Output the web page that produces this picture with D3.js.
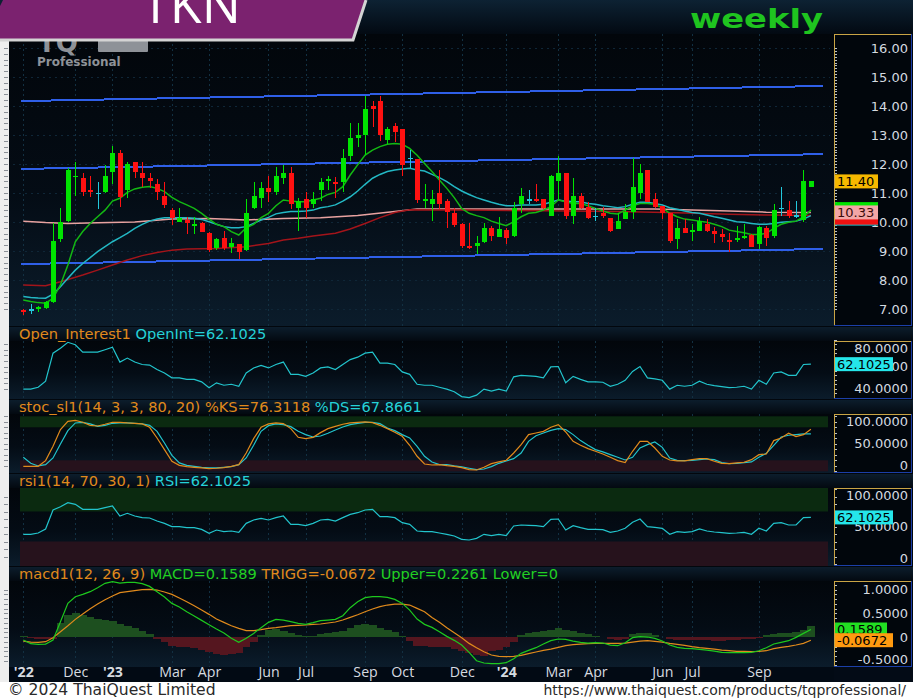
<!DOCTYPE html>
<html>
<head>
<meta charset="utf-8">
<title>TKN weekly</title>
<script src="https://cdn.jsdelivr.net/npm/d3@7/dist/d3.min.js"></script>
<style>
  html, body { margin: 0; padding: 0; background: #ffffff; }
  svg { display: block; }
</style>
</head>
<body>
<svg id="chart"></svg>
<script>
// ---- weekly OHLC, one entry per bar (oldest first) ----
const openP = [6.95,7.00,6.99,7.02,7.23,9.41,10.03,11.55,11.51,11.09, 11.01,11.02,11.71,12.37,11.10,12.08,11.68,11.51,11.30,10.90,
  10.41,10.01,10.07,9.87,9.98,9.63,9.09,9.46,9.13,9.25, 9.03,10.49,10.82,11.18,11.02,11.53,11.68,10.49,10.78,10.62,
  11.10,11.41,11.39,11.39,12.29,12.91,13.00,14.00,14.17,12.83, 13.31,13.20,12.22,12.17,10.74,10.61,11.01,10.72,10.32,9.92,
  9.16,9.18,9.30,9.80,9.47,9.72,9.52,10.61,10.78,10.78, 10.78,10.22,11.41,11.68,10.22,10.90,10.51,10.21,10.32,10.13,
  9.76,10.10,10.33,10.99,11.79,10.78,10.55,10.30,9.41,9.80, 9.69,9.70,9.92,9.69,9.57,9.38,9.38,9.46,9.55,9.23,
  9.80,9.53,10.49,10.41,10.24,10.07,11.22];
const highP = [7.00,7.17,7.11,7.28,9.95,10.50,11.85,12.08,11.68,11.60, 11.39,11.97,12.62,12.48,12.08,12.08,12.06,11.68,11.48,11.39,
  10.47,10.49,10.18,10.18,10.01,9.67,9.46,9.69,9.44,9.25, 10.79,11.39,11.39,11.60,11.91,11.97,11.91,10.82,11.02,11.02,
  11.51,11.60,11.56,12.51,13.40,13.40,14.36,14.17,14.36,13.29, 13.40,13.20,12.48,12.17,11.30,11.10,11.79,10.78,10.47,9.98,
  9.95,9.52,9.95,9.87,10.18,9.78,10.70,11.18,11.10,11.30, 10.78,11.62,12.29,11.68,11.51,11.01,10.70,10.49,10.53,10.15,
  10.32,10.61,12.22,11.99,11.79,10.99,10.56,10.32,10.10,10.10, 9.92,10.18,10.10,9.84,9.76,9.61,9.87,9.92,9.57,9.87,
  9.87,10.61,11.20,10.72,10.72,11.79,11.40];
const lowP = [6.78,6.82,6.88,7.00,7.20,9.32,10.00,10.91,10.90,10.87, 10.45,10.99,11.30,10.53,10.82,11.53,11.22,11.16,10.76,10.49,
  9.90,9.99,9.57,9.57,9.64,8.98,9.03,9.03,8.92,8.72, 9.01,10.45,10.47,10.70,10.93,11.30,10.45,9.70,10.13,10.47,
  10.72,11.10,10.82,11.05,12.10,12.60,12.31,13.29,12.79,12.68, 12.77,11.60,11.85,10.64,10.47,10.03,10.45,9.78,9.84,9.11,
  9.07,8.90,9.28,9.36,9.47,9.23,9.49,10.30,10.61,10.70, 10.44,10.20,10.76,10.10,9.92,10.45,10.10,10.03,10.13,9.67,
  9.75,10.09,10.10,10.79,10.68,10.49,10.10,9.29,9.07,9.61, 9.36,9.69,9.67,9.29,9.30,8.95,9.30,9.41,9.13,9.07,
  9.18,9.44,10.22,10.13,10.15,10.01,11.22];
const closeP = [6.90,7.00,7.07,7.25,9.34,9.99,11.79,11.60,11.02,11.02, 11.01,11.60,12.37,10.87,11.99,11.71,11.53,11.43,11.05,10.59,
  10.15,10.15,9.95,9.92,9.67,9.03,9.41,9.11,9.26,8.98, 10.30,10.90,11.18,11.02,11.60,11.68,10.61,10.72,10.49,10.78,
  11.39,11.48,11.31,12.20,12.89,13.00,13.90,13.90,13.00,13.20, 13.09,11.97,12.22,10.76,10.78,10.78,10.62,10.33,9.90,9.17,
  9.10,9.29,9.80,9.53,9.75,9.46,10.47,10.90,10.78,10.72, 10.47,11.59,11.68,10.21,10.90,10.49,10.13,10.21,10.21,9.70,
  10.03,10.33,11.20,11.68,10.70,10.53,10.32,9.34,9.80,9.63, 9.72,10.03,9.69,9.59,9.47,9.32,9.44,9.53,9.15,9.84,
  9.44,10.41,10.49,10.22,10.24,11.41,11.40];

// ---- moving averages ----
const maFast = [7.31,7.26,7.22,7.20,7.37,7.83,8.52,9.32,9.67,9.95, 10.18,10.41,10.72,10.82,11.02,11.14,11.20,11.22,11.16,11.05,
  10.85,10.70,10.59,10.47,10.30,10.10,9.92,9.84,9.67,9.55, 9.80,9.92,10.15,10.30,10.56,10.76,10.72,10.70,10.70,10.76,
  10.82,10.95,11.02,11.22,11.62,11.97,12.31,12.48,12.60,12.68, 12.71,12.68,12.54,12.30,12.02,11.74,11.45,11.16,10.84,10.47,
  10.30,10.22,10.15,10.03,9.95,9.87,10.01,10.18,10.30,10.33, 10.41,10.53,10.76,10.70,10.64,10.64,10.56,10.47,10.38,10.30,
  10.28,10.41,10.56,10.64,10.64,10.61,10.49,10.30,10.18,10.10, 10.07,10.03,9.99,9.92,9.84,9.72,9.67,9.63,9.57,9.57,
  9.61,9.78,9.92,9.99,10.03,10.18,10.41];
const maMid = [7.43,7.40,7.38,7.37,7.51,7.77,8.06,8.34,8.57,8.77, 8.98,9.15,9.32,9.46,9.61,9.78,9.92,10.03,10.10,10.15,
  10.15,10.15,10.15,10.13,10.09,10.01,9.92,9.84,9.80,9.80, 9.84,9.95,10.07,10.16,10.28,10.33,10.36,10.36,10.38,10.41,
  10.49,10.53,10.59,10.72,10.87,11.07,11.30,11.51,11.64,11.74, 11.79,11.83,11.85,11.79,11.76,11.64,11.53,11.39,11.22,11.07,
  10.95,10.84,10.76,10.68,10.61,10.56,10.56,10.59,10.59,10.59, 10.61,10.68,10.76,10.72,10.70,10.70,10.64,10.61,10.56,10.53,
  10.49,10.53,10.61,10.68,10.68,10.64,10.59,10.49,10.44,10.38, 10.33,10.30,10.24,10.18,10.13,10.07,10.01,9.99,9.95,9.92,
  9.92,9.95,9.99,10.01,10.03,10.10,10.22];
// slower averages, sampled where they bend (bar index / value)
const maSlowIdx = [0,3,5,8,10,12,14,16,18,20,22,26,30,33,35,37,39,42,44,46,48,50,52,60,70,80,88,95,100,106];
const maSlowVal = [7.83,7.80,7.94,8.17,8.34,8.52,8.69,8.84,8.95,9.03,9.07,9.09,9.15,9.26,9.38,9.44,9.52,9.61,9.76,9.95,
  10.15,10.33,10.42,10.41,10.39,10.36,10.32,10.27,10.24,10.22];
const maLongIdx = [0,3,6,10,15,20,25,30,35,40,45,50,53,85,90,95,100,106];
const maLongVal = [10.03,9.98,9.95,9.97,10.00,10.10,10.12,10.07,10.12,10.15,10.22,10.36,10.45,10.45,10.41,10.38,10.34,10.33];

// ---- trend channel (start / end bar, value) ----
const channelIdx = [-0.3, 107.6];
const channelUpper = [14.17, 14.69];
const channelMid = [11.83, 12.34];
const channelLower = [8.55, 9.07];

// ---- indicators ----
const rsiVals = [39.6,39.6,41.3,46.7,72.0,76.4,81.8,79.6,72.9,72.9, 72.9,75.1,77.3,64.0,67.6,64.0,61.8,61.3,57.3,54.2,
  49.8,49.8,48.4,48.4,46.2,40.9,45.3,43.1,44.0,42.2, 54.2,58.7,60.9,58.7,61.8,64.0,52.9,52.9,51.1,54.2,
  58.7,59.6,57.3,61.8,66.2,68.4,72.0,72.9,63.1,63.1, 61.8,55.1,52.9,44.0,43.1,43.1,41.3,39.6,37.3,32.9,
  32.0,34.2,39.6,37.8,39.6,37.8,50.7,52.0,51.6,51.1, 49.8,59.6,60.0,45.3,51.1,48.4,46.2,46.2,45.8,42.2,
  44.0,47.6,55.6,60.0,49.8,48.9,47.6,39.6,43.1,42.2, 43.1,46.7,44.0,42.7,41.8,40.9,41.3,42.2,39.6,47.6,
  44.0,54.2,55.1,52.0,52.0,61.8,62.1];
const openInt = rsiVals; // the Open_Interest1 study plots the same series
const stochK = [9.1,9.1,9.1,19.4,45.5,75.8,90.9,92.7,89.1,83.6, 82.4,85.5,89.1,89.1,87.9,87.3,86.1,80.0,60.6,39.4,
  18.2,10.9,8.5,7.3,6.1,4.8,5.5,6.7,9.1,12.1, 33.3,59.4,80.0,86.1,87.9,86.7,77.6,61.8,59.4,61.8,
  70.3,77.6,81.8,85.5,87.9,89.1,89.7,88.5,83.6,77.6, 70.9,63.6,47.3,27.3,13.3,11.5,12.1,10.3,9.1,6.7,
  3.0,2.4,7.3,13.9,17.0,20.0,33.3,48.5,66.7,69.7, 72.7,80.0,84.8,71.5,54.5,47.3,41.2,36.4,31.5,25.5,
  19.4,15.8,36.4,54.5,54.5,42.4,27.3,20.6,18.8,18.8, 21.2,23.0,23.0,18.2,14.5,13.9,15.2,16.4,21.2,30.3,
  31.5,55.8,60.6,69.1,63.0,66.7,76.3];
const stochD = [25.5,14.5,9.7,12.1,24.2,49.7,73.9,87.9,89.1,86.1, 81.8,83.6,87.3,87.9,87.9,87.3,86.1,83.6,72.7,51.5,
  29.1,15.2,10.9,9.1,7.3,6.1,6.1,7.3,8.5,12.1, 24.2,47.3,72.7,83.0,86.1,84.8,81.2,72.7,66.7,62.4,
  64.2,69.1,75.2,80.6,84.8,87.3,89.1,89.1,86.7,78.8, 73.9,66.7,60.6,45.5,27.3,17.0,12.1,12.1,9.7,7.9,
  5.5,3.0,4.2,8.5,14.5,18.8,23.0,33.3,54.5,64.8, 69.7,74.5,77.6,75.8,66.7,55.8,47.3,39.4,35.2,30.3,
  25.5,20.6,25.5,42.4,48.5,53.3,43.6,24.2,20.0,19.4, 20.0,21.2,22.4,21.2,15.8,13.9,14.5,15.8,17.0,25.5,
  32.7,47.3,62.4,65.5,66.7,67.9,67.9];
const macdLine = [-0.063,-0.141,-0.155,-0.148,-0.063,0.324,0.711,0.852,0.901,0.958, 1.042,1.134,1.169,1.141,1.155,1.155,1.127,1.070,0.958,0.845,
  0.711,0.634,0.535,0.444,0.352,0.261,0.169,0.085,-0.028,-0.113, -0.028,0.077,0.197,0.310,0.373,0.359,0.324,0.289,0.268,0.303,
  0.345,0.359,0.373,0.451,0.620,0.746,0.831,0.852,0.852,0.838, 0.796,0.711,0.570,0.380,0.268,0.204,0.113,0.014,-0.070,-0.169,
  -0.324,-0.500,-0.549,-0.563,-0.563,-0.542,-0.458,-0.345,-0.282,-0.225, -0.148,-0.077,-0.042,-0.049,-0.085,-0.113,-0.127,-0.120,-0.127,-0.169,
  -0.183,-0.120,-0.014,0.007,0.000,-0.028,-0.085,-0.169,-0.218,-0.239, -0.246,-0.261,-0.275,-0.296,-0.324,-0.331,-0.331,-0.331,-0.324,-0.289,
  -0.225,-0.148,-0.113,-0.077,-0.007,0.077,0.159];
const macdSignal = [-0.085,-0.106,-0.113,-0.099,-0.014,0.113,0.239,0.373,0.486,0.599, 0.697,0.789,0.866,0.937,0.958,0.979,1.000,1.007,0.993,0.951,
  0.901,0.824,0.746,0.662,0.570,0.479,0.380,0.310,0.239,0.183, 0.134,0.134,0.155,0.183,0.197,0.218,0.239,0.246,0.254,0.268,
  0.275,0.296,0.317,0.359,0.415,0.472,0.535,0.592,0.641,0.676, 0.697,0.697,0.676,0.606,0.535,0.415,0.310,0.197,0.092,-0.014,
  -0.134,-0.225,-0.310,-0.380,-0.408,-0.415,-0.408,-0.387,-0.352,-0.317, -0.282,-0.254,-0.218,-0.183,-0.162,-0.148,-0.141,-0.134,-0.134,-0.134,
  -0.134,-0.127,-0.106,-0.085,-0.077,-0.092,-0.106,-0.134,-0.155,-0.176, -0.204,-0.225,-0.239,-0.254,-0.275,-0.289,-0.303,-0.303,-0.310,-0.303,
  -0.289,-0.246,-0.218,-0.197,-0.169,-0.134,-0.067];
const macdHist = [0.02,-0.03,-0.04,-0.05,-0.05,0.30,0.46,0.50,0.46,0.42, 0.39,0.37,0.33,0.28,0.23,0.20,0.12,0.06,-0.04,-0.10,
  -0.18,-0.20,-0.22,-0.24,-0.27,-0.32,-0.36,-0.37,-0.36,-0.33, -0.22,-0.10,0.05,0.14,0.16,0.13,0.09,0.05,0.02,0.03,
  0.06,0.08,0.10,0.13,0.19,0.25,0.28,0.26,0.20,0.15, 0.10,0.03,-0.09,-0.19,-0.19,-0.20,-0.21,-0.22,-0.25,-0.30,
  -0.34,-0.38,-0.40,-0.30,-0.27,-0.20,-0.10,0.04,0.08,0.10, 0.12,0.15,0.19,0.14,0.12,0.09,0.07,0.03,0.00,-0.05,
  -0.06,-0.04,0.07,0.09,0.08,0.05,0.00,-0.04,-0.06,-0.07, -0.06,-0.06,-0.07,-0.08,-0.08,-0.07,-0.06,-0.05,-0.04,-0.02,
  0.05,0.07,0.08,0.09,0.10,0.14,0.23];

// ---- axis labels ----
const monthIdx = [0,7,12,20,25,33,38,46,51,59,65,72,77,86,90,99];
const monthLbl = ["'22","Dec","'23","Mar","Apr","Jun","Jul","Sep","Oct","Dec","'24","Mar","Apr","Jun","Jul","Sep"];
const priceTicks = [7,8,9,10,11,12,13,14,15,16];
const oiTicks = [40,60,80];
const stochTicks = [0,50,100];
const rsiTicks = [0,50,100];
const macdTicks = [-0.5,0,0.5,1];

// ---------------------------------------------------------------
const W = 913, H = 698;
const PL = 13, PR = 830;      // plot area left / right
const AX = 834, AXR = 911;    // right axis box
const FONT = "'DejaVu Sans', sans-serif";
const HFONT = "'Open Sans', 'DejaVu Sans', sans-serif";
const C_ORANGE = "#e08a1c", C_CYAN = "#25d2d8", C_GREEN = "#22d022";

const svg = d3.select("#chart").attr("width", W).attr("height", H).attr("viewBox", `0 0 ${W} ${H}`);
svg.append("rect").attr("width", W).attr("height", H).attr("fill", "#ffffff");

const defs = svg.append("defs");
function vGrad(id, stops) {
  const g = defs.append("linearGradient").attr("id", id).attr("x1", 0).attr("y1", 0).attr("x2", 0).attr("y2", 1);
  stops.forEach(([o, c]) => g.append("stop").attr("offset", o).attr("stop-color", c));
}
vGrad("panelBg", [[0, "#02060b"], [0.55, "#040c15"], [1, "#0b1c2b"]]);
vGrad("hdrBg", [[0, "#0c1d2c"], [1, "#030910"]]);
vGrad("topBg", [[0, "#0d2233"], [1, "#020810"]]);

// overall dark body
svg.append("rect").attr("x", 9).attr("y", 0).attr("width", W - 9).attr("height", 682).attr("fill", "#02070d");
svg.append("rect").attr("x", 0).attr("y", 0).attr("width", W).attr("height", 36).attr("fill", "url(#topBg)");
// left light strip
svg.append("rect").attr("x", 0).attr("y", 34).attr("width", 9).attr("height", 648).attr("fill", "#eeeeee");

const x = d3.scaleLinear().domain([0, 106]).range([23.3, 810.9]);

const panels = [
  { key: "main",  top: 34,  bottom: 326 },
  { key: "oi",    hdr: 327, top: 341, bottom: 399 },
  { key: "stoch", hdr: 400, top: 414, bottom: 473 },
  { key: "rsi",   hdr: 474, top: 488, bottom: 566 },
  { key: "macd",  hdr: 567, top: 581, bottom: 667 }
];
const P = Object.fromEntries(panels.map(p => [p.key, p]));

const yPrice = d3.scaleLinear().domain([7, 16]).range([309, 48]);
const yOI = d3.scaleLinear().domain([40, 80]).range([388.7, 344.3]);
const yStoch = d3.scaleLinear().domain([0, 100]).range([471.3, 416.3]);
const yRsi = d3.scaleLinear().domain([0, 100]).range([564, 489]);
const yMacd = d3.scaleLinear().domain([-0.5, 1]).range([660.7, 589.7]);

// panel backgrounds, headers, clips
panels.forEach(p => {
  if (p.hdr != null) {
    svg.append("rect").attr("x", 9).attr("y", p.hdr).attr("width", W - 9).attr("height", p.top - p.hdr)
      .attr("fill", "url(#hdrBg)");
  }
  svg.append("rect").attr("x", 9).attr("y", p.top).attr("width", AX - 9).attr("height", p.bottom - p.top)
    .attr("fill", "url(#panelBg)");
  defs.append("clipPath").attr("id", "clip-" + p.key)
    .append("rect").attr("x", PL).attr("y", p.top).attr("width", PR - PL).attr("height", p.bottom - p.top);
});

function layer(key) { return svg.append("g").attr("clip-path", `url(#clip-${key})`); }

// vertical month grid in each panel
panels.forEach(p => {
  layer(p.key).selectAll("line").data(monthIdx).join("line")
    .attr("x1", d => Math.round(x(d)) + 0.5).attr("x2", d => Math.round(x(d)) + 0.5)
    .attr("y1", p.top).attr("y2", p.bottom)
    .attr("stroke", "#123042").attr("stroke-dasharray", "2,3");
});

// ---------------- main price panel ----------------
const gMain = layer("main");
gMain.selectAll("line.hgrid").data(priceTicks).join("line").attr("class", "hgrid")
  .attr("x1", PL).attr("x2", PR)
  .attr("y1", d => Math.round(yPrice(d)) + 0.5).attr("y2", d => Math.round(yPrice(d)) + 0.5)
  .attr("stroke", "#0f2637").attr("stroke-dasharray", "2,4");

// channel
[channelUpper, channelMid, channelLower].forEach(ch => {
  gMain.append("line")
    .attr("x1", x(channelIdx[0])).attr("x2", x(channelIdx[1]))
    .attr("y1", yPrice(ch[0])).attr("y2", yPrice(ch[1]))
    .attr("stroke", "#2f5fe8").attr("stroke-width", 2).attr("shape-rendering", "crispEdges");
});

// moving averages
const lineIdx = (scale) => d3.line().x((d, i) => x(i)).y(d => scale(d));
const lineXY = (xs, scale) => d3.line().x((d, i) => x(xs[i])).y(d => scale(d));
gMain.append("path").datum(maLongVal).attr("d", lineXY(maLongIdx, yPrice))
  .attr("fill", "none").attr("stroke", "#e8a2a0").attr("stroke-width", 1.5);
gMain.append("path").datum(maSlowVal).attr("d", lineXY(maSlowIdx, yPrice))
  .attr("fill", "none").attr("stroke", "#a3141a").attr("stroke-width", 1.5);
gMain.append("path").datum(maMid).attr("d", lineIdx(yPrice))
  .attr("fill", "none").attr("stroke", "#23b8c4").attr("stroke-width", 1.5);
gMain.append("path").datum(maFast).attr("d", lineIdx(yPrice))
  .attr("fill", "none").attr("stroke", "#13b813").attr("stroke-width", 1.5);

// candles
const bars = closeP.map((c, i) => ({ i, o: openP[i], h: highP[i], l: lowP[i], c }));
const barColor = d => d.c > d.o ? "#00e400" : (d.c < d.o ? "#ff1111" : "#22c8dc");
const gC = gMain.append("g").attr("shape-rendering", "crispEdges");
gC.selectAll("line.wick").data(bars).join("line").attr("class", "wick")
  .attr("x1", d => Math.round(x(d.i)) + 0.5).attr("x2", d => Math.round(x(d.i)) + 0.5)
  .attr("y1", d => yPrice(d.h)).attr("y2", d => yPrice(d.l))
  .attr("stroke", barColor).attr("stroke-width", 1.3);
gC.selectAll("rect.body").data(bars).join("rect").attr("class", "body")
  .attr("x", d => Math.round(x(d.i)) - 2).attr("width", 5)
  .attr("y", d => yPrice(Math.max(d.o, d.c)))
  .attr("height", d => Math.max(1.5, Math.abs(yPrice(d.o) - yPrice(d.c))))
  .attr("fill", barColor);

// ---------------- open interest ----------------
layer("oi").append("path").datum(openInt).attr("d", lineIdx(yOI))
  .attr("fill", "none").attr("stroke", "#22c4cc").attr("stroke-width", 1.2);

// ---------------- stochastic ----------------
const gSt = layer("stoch");
gSt.append("rect").attr("x", 20).attr("width", PR - 22).attr("y", yStoch(100)).attr("height", yStoch(80) - yStoch(100))
  .attr("fill", "#0b2a10");
gSt.append("rect").attr("x", 20).attr("width", PR - 22).attr("y", yStoch(20)).attr("height", yStoch(0) - yStoch(20))
  .attr("fill", "#26121c");
gSt.append("path").datum(stochD).attr("d", lineIdx(yStoch))
  .attr("fill", "none").attr("stroke", "#22c4cc").attr("stroke-width", 1.2);
gSt.append("path").datum(stochK).attr("d", lineIdx(yStoch))
  .attr("fill", "none").attr("stroke", "#e08a1c").attr("stroke-width", 1.2);

// ---------------- RSI ----------------
const gR = layer("rsi");
gR.append("rect").attr("x", 20).attr("width", PR - 22).attr("y", yRsi(100) - 2).attr("height", yRsi(70) - yRsi(100) + 2)
  .attr("fill", "#0b2a10");
gR.append("rect").attr("x", 20).attr("width", PR - 22).attr("y", yRsi(30)).attr("height", yRsi(0) - yRsi(30) + 2)
  .attr("fill", "#26121c");
gR.append("path").datum(rsiVals).attr("d", lineIdx(yRsi))
  .attr("fill", "none").attr("stroke", "#22c4cc").attr("stroke-width", 1.2);

// ---------------- MACD ----------------
const gM = layer("macd");
const step = x(1) - x(0);
gM.append("g").attr("shape-rendering", "crispEdges").selectAll("rect").data(macdHist).join("rect")
  .attr("x", (d, i) => x(i) - step / 2).attr("width", step + 0.5)
  .attr("y", d => yMacd(Math.max(0, d))).attr("height", d => Math.abs(yMacd(d) - yMacd(0)))
  .attr("fill", d => d >= 0 ? "#1d4f1f" : "#55161f");
gM.append("path").datum(macdSignal).attr("d", lineIdx(yMacd))
  .attr("fill", "none").attr("stroke", "#e08a1c").attr("stroke-width", 1.2);
gM.append("path").datum(macdLine).attr("d", lineIdx(yMacd))
  .attr("fill", "none").attr("stroke", "#1ec81e").attr("stroke-width", 1.2);

// ---------------- headers ----------------
const headers = {
  oi:    [["Open_Interest1 ", C_ORANGE], ["OpenInt=62.1025", C_CYAN]],
  stoch: [["stoc_sl1(14, 3, 3, 80, 20) %KS=76.3118 ", C_ORANGE], ["%DS=67.8661", C_CYAN]],
  rsi:   [["rsi1(14, 70, 30, 1) ", C_ORANGE], ["RSI=62.1025", C_CYAN]],
  macd:  [["macd1(12, 26, 9) ", C_ORANGE], ["MACD=0.1589 ", C_GREEN], ["TRIGG=-0.0672 ", C_ORANGE], ["Upper=0.2261 Lower=0", C_GREEN]]
};
Object.entries(headers).forEach(([k, parts]) => {
  const t = svg.append("text").attr("x", 19).attr("y", P[k].hdr + 11.5)
    .style("font-family", FONT).style("font-size", "14.6px").attr("xml:space", "preserve");
  parts.forEach(([s, c]) => t.append("tspan").attr("fill", c).text(s));
});

// ---------------- right axes ----------------
function axisBox(p, scale, ticks, fmt, minorTicks) {
  const top = p.top;
  svg.append("rect").attr("x", AX).attr("y", top).attr("width", AXR - AX).attr("height", p.bottom - top - 1)
    .attr("fill", "#01060c");
  const g = svg.append("g").attr("transform", `translate(${AX},0)`);
  g.append("g").attr("shape-rendering", "crispEdges").selectAll("line").data(minorTicks).join("line")
    .attr("x1", 0).attr("x2", 3)
    .attr("y1", d => Math.round(scale(d)) + 0.5).attr("y2", d => Math.round(scale(d)) + 0.5)
    .attr("stroke", "#b8c0c8");
  g.selectAll("text").data(ticks).join("text")
    .attr("x", 908 - AX).attr("text-anchor", "end")
    .attr("y", d => Math.max(top + 7, Math.min(p.bottom - 8, scale(d))))
    .attr("dy", "0.36em")
    .style("font-family", FONT).style("font-size", "13px").attr("fill", "#d4dae0")
    .text(fmt);
  svg.append("path").attr("d", `M${AX + 0.5},${p.bottom - 1}V${top + 0.5}H${AXR}`)
    .attr("fill", "none").attr("stroke", "#c9a445").attr("shape-rendering", "crispEdges");
  svg.append("path").attr("d", `M${AXR + 0.5},${top}V${p.bottom - 0.5}H${AX}`)
    .attr("fill", "none").attr("stroke", "#1b3fa8").attr("shape-rendering", "crispEdges");
}
axisBox(P.main, yPrice, priceTicks, d => d.toFixed(2), d3.range(70, 161).map(v => v / 10));
axisBox(P.oi, yOI, oiTicks, d => d.toFixed(4), d3.range(32, 86, 4));
axisBox(P.stoch, yStoch, stochTicks, d => d === 0 ? "0" : d.toFixed(4), d3.range(0, 101, 10));
axisBox(P.rsi, yRsi, rsiTicks, d => d === 0 ? "0" : d.toFixed(4), d3.range(0, 101, 10));
axisBox(P.macd, yMacd, macdTicks, d => d === 0 ? "0" : d.toFixed(4), d3.range(-0.6, 1.15, 0.1));

// left edge minor ticks
panels.forEach(p => {
  const sc = { main: yPrice, oi: yOI, stoch: yStoch, rsi: yRsi, macd: yMacd }[p.key];
  const tv = sc.ticks(p.key === "main" ? 60 : 12).filter(v => sc(v) > p.top + 2 && sc(v) < p.bottom - 2);
  svg.append("g").attr("shape-rendering", "crispEdges").selectAll("line").data(tv).join("line")
    .attr("x1", 4).attr("x2", 8)
    .attr("y1", d => Math.round(sc(d)) + 0.5).attr("y2", d => Math.round(sc(d)) + 0.5)
    .attr("stroke", "#8a8f96");
});

// value tags (the ones underneath are only coloured edges in the original)
function tagRect(yv, bg, w) {
  svg.append("rect").attr("x", AX + 1).attr("y", yv - 7).attr("width", w).attr("height", 14).attr("fill", bg);
}
function tag(yv, label, bg, fg, w) {
  tagRect(yv, bg, w);
  svg.append("text").attr("x", AX + 3).attr("y", yv).attr("dy", "0.36em")
    .style("font-family", FONT).style("font-size", "13px").attr("fill", fg).text(label);
}
tagRect(yPrice(maMid[106]) + 3, "#22b8c4", 43);
tagRect(yPrice(maSlowVal[maSlowVal.length - 1]) + 2, "#ee1111", 43);
tagRect(yPrice(maFast[106]) - 1, "#00e400", 43);
tag(yPrice(maLongVal[maLongVal.length - 1]), "10.33", "#f2a6a6", "#3a0a0a", 43);
tag(yPrice(closeP[106]), "11.40", "#f6b800", "#000", 43);
tag(yOI(openInt[106]), "62.1025", "#25e6ea", "#000", 58);
tag(yRsi(rsiVals[106]), "62.1025", "#25e6ea", "#000", 58);
tag(yMacd(macdLine[106]), "0.1589", "#22e022", "#000", 52);
tag(yMacd(macdSignal[106]), "-0.0672", "#ff9a10", "#000", 58);

// ---------------- date axis ----------------
svg.append("rect").attr("x", 9).attr("y", 667).attr("width", AX - 9).attr("height", 15).attr("fill", "#020a14");
svg.append("rect").attr("x", AX).attr("y", 667).attr("width", W - AX).attr("height", 15).attr("fill", "#030b16");
const xAxis = svg.append("g").attr("transform", "translate(0,666)")
  .call(d3.axisBottom(x).tickValues(monthIdx).tickFormat((d, i) => monthLbl[i]).tickSize(0).tickPadding(1));
xAxis.select(".domain").remove();
xAxis.selectAll(".tick text")
  .style("font-family", HFONT).style("font-size", "14.2px").attr("fill", "#d6dbe0")
  .style("font-weight", (d, i) => monthLbl[i].startsWith("'") ? "700" : "400");

// ---------------- footer ----------------
svg.append("text").attr("x", 8).attr("y", 694.5)
  .style("font-family", FONT).style("font-size", "15.6px").attr("fill", "#2a2a2a")
  .text("\u00a9 2024 ThaiQuest Limited");
svg.append("text").attr("x", 906).attr("y", 694.5).attr("text-anchor", "end")
  .style("font-family", FONT).style("font-size", "14px").attr("fill", "#2a2a2a")
  .text("https://www.thaiquest.com/products/tqprofessional/");

// ---------------- logo, banner, title ----------------
const logo = svg.append("g").attr("fill", "#8e9298");
logo.append("text").attr("x", 38).attr("y", 52)
  .style("font-family", FONT).style("font-size", "26px").style("font-weight", "700").text("TQ");
logo.append("rect").attr("x", 98).attr("y", 38).attr("width", 50).attr("height", 14).attr("rx", 1);
logo.append("text").attr("x", 37).attr("y", 66)
  .style("font-family", FONT).style("font-size", "12px").style("font-weight", "700").text("Professional");

svg.append("path").attr("d", "M3,0H366L353,39H0V6Z").attr("fill", "#7b226f");
svg.append("path").attr("d", "M366,0L353,40H0").attr("fill", "none").attr("stroke", "#d4d4d4").attr("stroke-width", 3);
svg.append("text").attr("x", 191).attr("y", 23).attr("text-anchor", "middle")
  .style("font-family", HFONT).style("font-size", "52px").attr("fill", "#ffffff").text("TKN");
svg.append("text").attr("x", 690).attr("y", 28)
  .attr("textLength", 133).attr("lengthAdjust", "spacingAndGlyphs")
  .style("font-family", FONT).style("font-size", "26px").style("font-weight", "700").attr("fill", "#1fc41f")
  .text("weekly");
</script>
</body>
</html>
